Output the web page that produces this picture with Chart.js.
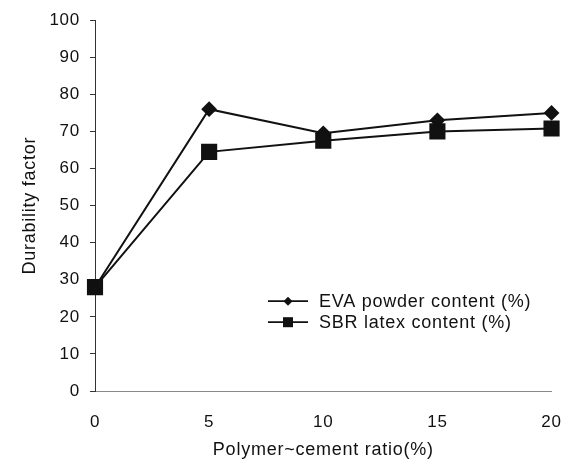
<!DOCTYPE html>
<html lang="en">
<head>
<meta charset="UTF-8">
<title>Durability factor</title>
<script src="https://cdn.jsdelivr.net/npm/chart.js"></script>
<style>
  html, body { margin: 0; padding: 0; background: #fff; }
  #wrap { width: 574px; height: 462px; }
</style>
</head>
<body>
<div id="wrap"><canvas id="grafico" width="574" height="462"></canvas></div>
<script>
    // datos
    const ratios = [0, 5, 10, 15, 20];
    const evaValues = [28, 76, 69.5, 73, 75];
    const sbrValues = [28, 64.5, 67.5, 70, 70.8];
    const seriesNames = ["EVA powder content (%)", "SBR latex content (%)"];
    const yTicks = [0, 10, 20, 30, 40, 50, 60, 70, 80, 90, 100];

    const fuente = "'Liberation Sans', Arial, sans-serif";
    const tinta = "#111";

    function puntos(vals) {
        return ratios.map((x, i) => ({ x: x, y: vals[i] }));
    }

    // el texto del original es algo más espaciado
    const espaciado = {
        id: "espaciado",
        beforeDraw(chart) { chart.ctx.letterSpacing = "0.75px"; },
        afterDraw(chart) { chart.ctx.letterSpacing = "0px"; }
    };

    // leyenda dibujada dentro del área del gráfico
    const leyenda = {
        id: "leyendaInterna",
        afterDatasetsDraw(chart) {
            const ctx = chart.ctx;
            const area = chart.chartArea;
            const x0 = 268, y0 = area.top + 281;
            ctx.save();
            ctx.font = "18px " + fuente;
            ctx.textBaseline = "middle";
            chart.data.datasets.forEach((ds, i) => {
                const y = y0 + i * 21;
                ctx.strokeStyle = tinta;
                ctx.lineWidth = 1.8;
                ctx.beginPath();
                ctx.moveTo(x0, y);
                ctx.lineTo(x0 + 40, y);
                ctx.stroke();
                ctx.fillStyle = tinta;
                const cx = x0 + 20;
                if (ds.pointStyle === "rectRot") {
                    ctx.beginPath();
                    ctx.moveTo(cx, y - 4.5); ctx.lineTo(cx + 4.5, y);
                    ctx.lineTo(cx, y + 4.5); ctx.lineTo(cx - 4.5, y);
                    ctx.closePath(); ctx.fill();
                } else {
                    ctx.fillRect(cx - 5, y - 5, 10, 10);
                }
                ctx.fillText(ds.label, x0 + 51, y + 1);
            });
            ctx.restore();
        }
    };

    new Chart(document.getElementById("grafico").getContext("2d"), {
        type: "line",
        data: {
            datasets: [
                {
                    label: seriesNames[0],
                    data: puntos(evaValues),
                    borderColor: tinta,
                    backgroundColor: tinta,
                    borderWidth: 2,
                    pointStyle: "rectRot",
                    pointRadius: 6.5,
                    pointHoverRadius: 6.5,
                    fill: false,
                    clip: false,
                    tension: 0
                },
                {
                    label: seriesNames[1],
                    data: puntos(sbrValues),
                    borderColor: tinta,
                    backgroundColor: tinta,
                    borderWidth: 2,
                    pointStyle: "rect",
                    pointRadius: 10,
                    pointHoverRadius: 10,
                    fill: false,
                    clip: false,
                    tension: 0
                }
            ]
        },
        options: {
            responsive: false,
            animation: false,
            layout: { padding: { left: 0, right: 17, top: 15, bottom: 0 } },
            plugins: {
                legend: { display: false },
                tooltip: { enabled: false }
            },
            scales: {
                x: {
                    type: "linear",
                    min: 0,
                    max: 20,
                    afterBuildTicks: s => { s.ticks = ratios.map(v => ({ value: v })); },
                    grid: { display: false },
                    border: { display: true, color: "#888", width: 1, dash: [8, 12] },
                    ticks: { color: tinta, font: { size: 17, family: fuente }, padding: 13, maxRotation: 0 },
                    title: {
                        display: true,
                        text: "Polymer~cement ratio(%)",
                        color: tinta,
                        font: { size: 18, family: fuente },
                        padding: { top: 0, bottom: 1 }
                    },
                    afterFit: s => { s.height = 71; }
                },
                y: {
                    min: 0,
                    max: 100,
                    afterBuildTicks: s => { s.ticks = yTicks.map(v => ({ value: v })); },
                    grid: { drawOnChartArea: false, tickLength: 5, color: "#333" },
                    border: { display: true, color: "#333", width: 1 },
                    ticks: { color: tinta, font: { size: 17, family: fuente }, padding: 10 },
                    title: {
                        display: true,
                        text: "Durability factor",
                        color: tinta,
                        font: { size: 18, family: fuente },
                        padding: { top: 19, bottom: 0 }
                    },
                    afterFit: s => { s.width = 95; }
                }
            }
        },
        plugins: [espaciado, leyenda]
    });
</script>
</body>
</html>
